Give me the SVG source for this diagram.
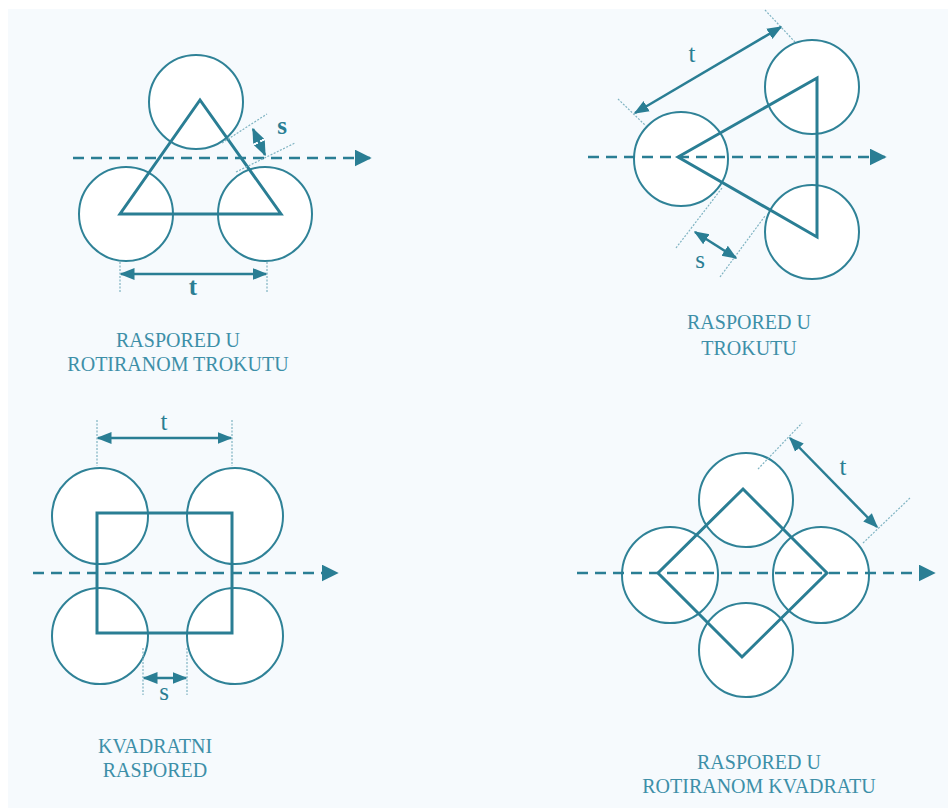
<svg xmlns="http://www.w3.org/2000/svg" width="948" height="808" viewBox="0 0 948 808">
<defs>
<style>
.bg{fill:#f6fafd}
.c{fill:#ffffff;stroke:#2f8297;stroke-width:2}
.sh{fill:none;stroke:#2a7e94;stroke-width:3;stroke-linejoin:miter}
.ax{fill:none;stroke:#2a7e94;stroke-width:2.5;stroke-dasharray:11 7}
.dim{fill:none;stroke:#2a7e94;stroke-width:2.5}
.ext{fill:none;stroke:#7fb3c2;stroke-width:1.2;stroke-dasharray:2 1.5}
.lbl{font-family:"Liberation Serif","Times New Roman",serif;font-size:20px;fill:#3d8fa8;text-anchor:middle}
.dl{font-family:"Liberation Serif","Times New Roman",serif;font-size:25px;fill:#2a7e94;text-anchor:middle}
.b{font-weight:bold}
</style>
<marker id="ah" viewBox="0 0 10 10" refX="9" refY="5" markerWidth="15" markerHeight="15" markerUnits="userSpaceOnUse" orient="auto-start-reverse">
<path d="M0,1 L10,5 L0,9 Z" fill="#2a7e94"/>
</marker>
<marker id="ax" viewBox="0 0 10 10" refX="9" refY="5" markerWidth="17" markerHeight="17" markerUnits="userSpaceOnUse" orient="auto">
<path d="M0,0 L10,5 L0,10 Z" fill="#2a7e94"/>
</marker>
</defs>
<rect x="0" y="0" width="948" height="808" fill="#ffffff"/>
<rect class="bg" x="8" y="9" width="940" height="799"/>

<g id="rotated-triangle">
<circle class="c" cx="196" cy="102" r="47"/>
<circle class="c" cx="126" cy="214" r="47"/>
<circle class="c" cx="265" cy="214" r="47"/>
<polygon class="sh" points="200,100 120,214 281,214"/>
<text class="lbl" x="178" y="347">RASPORED U</text>
<text class="lbl" x="178" y="371">ROTIRANOM TROKUTU</text>
</g>

<g id="triangle">
<circle class="c" cx="681" cy="159" r="47"/>
<circle class="c" cx="812" cy="87" r="47"/>
<circle class="c" cx="812" cy="232" r="47"/>
<polygon class="sh" points="678,157 817,78 817,237"/>
<text class="lbl" x="749" y="329">RASPORED U</text>
<text class="lbl" x="749" y="355">TROKUTU</text>
</g>

<g id="square">
<circle class="c" cx="100" cy="516" r="48"/>
<circle class="c" cx="235" cy="516" r="48"/>
<circle class="c" cx="100" cy="636" r="48"/>
<circle class="c" cx="235" cy="636" r="48"/>
<rect class="sh" x="97" y="513" width="135" height="120"/>
<text class="lbl" x="155" y="753">KVADRATNI</text>
<text class="lbl" x="155" y="777">RASPORED</text>
</g>

<g id="rotated-square">
<circle class="c" cx="746" cy="500" r="47"/>
<circle class="c" cx="670" cy="575" r="48"/>
<circle class="c" cx="821" cy="575" r="48"/>
<circle class="c" cx="746" cy="650" r="47"/>
<polygon class="sh" points="743,489 827,573 742,657 658,573"/>
<text class="lbl" x="759" y="769">RASPORED U</text>
<text class="lbl" x="759" y="793">ROTIRANOM KVADRATU</text>
</g>

<g id="connectors">
<line class="ax" x1="73" y1="158" x2="370" y2="158" marker-end="url(#ax)"/>
<line class="ax" x1="588" y1="157" x2="885" y2="157" marker-end="url(#ax)"/>
<line class="ax" x1="33" y1="573" x2="337" y2="573" marker-end="url(#ax)"/>
<line class="ax" x1="577" y1="573" x2="934" y2="573" marker-end="url(#ax)"/>

<line class="ext" x1="120" y1="262" x2="120" y2="292"/>
<line class="ext" x1="267" y1="262" x2="267" y2="292"/>
<line class="dim" x1="121" y1="274" x2="266" y2="274" marker-start="url(#ah)" marker-end="url(#ah)"/>
<text class="dl b" x="193" y="295">t</text>
<line class="ext" x1="222" y1="143" x2="267" y2="114"/>
<line class="ext" x1="236" y1="172" x2="295" y2="143"/>
<line class="dim" x1="253" y1="129" x2="265" y2="155" marker-start="url(#ah)" marker-end="url(#ah)"/>
<text class="dl b" x="282" y="134">s</text>

<line class="ext" x1="618" y1="99" x2="646" y2="126"/>
<line class="ext" x1="765" y1="10" x2="795" y2="42"/>
<line class="dim" x1="635" y1="113" x2="781" y2="27" marker-start="url(#ah)" marker-end="url(#ah)"/>
<text class="dl" x="692" y="62">t</text>
<line class="ext" x1="676" y1="248" x2="722" y2="188"/>
<line class="ext" x1="720" y1="277" x2="765" y2="216"/>
<line class="dim" x1="695" y1="232" x2="736" y2="258" marker-start="url(#ah)" marker-end="url(#ah)"/>
<text class="dl" x="700" y="268">s</text>

<line class="ext" x1="97" y1="420" x2="97" y2="466"/>
<line class="ext" x1="232" y1="420" x2="232" y2="466"/>
<line class="dim" x1="98" y1="438" x2="231" y2="438" marker-start="url(#ah)" marker-end="url(#ah)"/>
<text class="dl" x="164" y="430">t</text>
<line class="ext" x1="143" y1="648" x2="143" y2="695"/>
<line class="ext" x1="187" y1="648" x2="187" y2="695"/>
<line class="dim" x1="144" y1="678" x2="186" y2="678" marker-start="url(#ah)" marker-end="url(#ah)"/>
<text class="dl" x="164" y="700">s</text>

<line class="ext" x1="758" y1="469" x2="802" y2="423"/>
<line class="ext" x1="863" y1="543" x2="910" y2="498"/>
<line class="dim" x1="790" y1="438" x2="877" y2="527" marker-start="url(#ah)" marker-end="url(#ah)"/>
<text class="dl" x="843" y="475">t</text>
</g>
</svg>
